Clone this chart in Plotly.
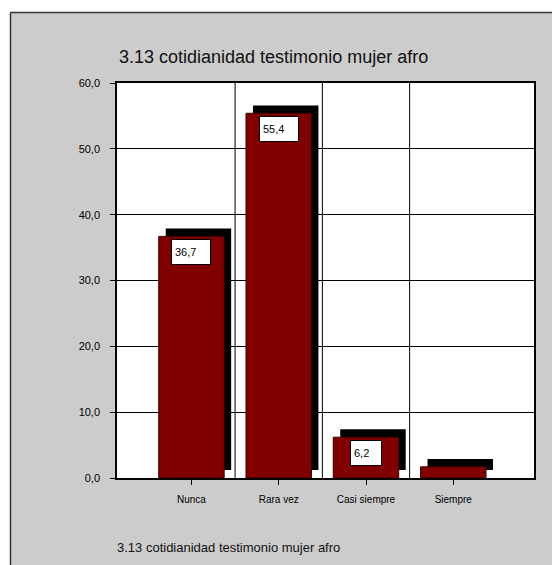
import plotly.graph_objects as go

# ---- data ----
categories = ["Nunca", "Rara vez", "Casi siempre", "Siempre"]
percentages = [36.7, 55.4, 6.2, 1.7]
show_value = [True, True, True, False]
y_ticks = [0, 10, 20, 30, 40, 50, 60]
title_text = "3.13 cotidianidad testimonio mujer afro"
caption_text = "3.13 cotidianidad testimonio mujer afro"

# ---- page geometry ----
W, H = 552, 565
M = dict(l=117, r=18, t=83, b=87)
PW = W - M["l"] - M["r"]
PH = H - M["t"] - M["b"]


def px_x(px):
    return (px - M["l"]) / PW


def px_y(py):
    return (H - M["b"] - py) / PH


FONT = "Liberation Sans, Arial, sans-serif"
BAR_COLOR = "#800000"
BAR_W = 0.75
SHADOW_DX = 0.08   # shadow shift, category units
SHADOW_DY = 1.2    # shadow shift, value units

fig = go.Figure()

# drop shadow: the same bars moved right and up
fig.add_trace(go.Bar(
    x=categories, y=percentages, base=SHADOW_DY,
    width=BAR_W, offset=-BAR_W / 2 + SHADOW_DX,
    marker=dict(color="black", line=dict(width=0)),
    hoverinfo="skip", showlegend=False,
))
# main bars
fig.add_trace(go.Bar(
    x=categories, y=percentages,
    width=BAR_W, offset=-BAR_W / 2,
    marker=dict(color=BAR_COLOR, line=dict(color="#3a0000", width=1)),
    showlegend=False,
))

# value boxes at the top of each bar
annotations = []
for cat, val, show in zip(categories, percentages, show_value):
    if not show:
        continue
    label = f"{val:.1f}".replace(".", ",")
    annotations.append(dict(
        x=cat, y=val, xref="x", yref="y",
        text=label, showarrow=False,
        xanchor="center", yanchor="top", yshift=-2.5,
        width=7.5 * len(label) + 1.5, height=18,
        align="left", valign="middle",
        bgcolor="white", bordercolor="black", borderwidth=1, borderpad=3,
        font=dict(family=FONT, size=11, color="black"),
    ))

# chart title and caption
annotations.append(dict(
    x=px_x(117), y=px_y(56.5), xref="paper", yref="paper",
    text=title_text, showarrow=False, xanchor="left", yanchor="middle",
    font=dict(family=FONT, size=18, color="#111111"),
))
annotations.append(dict(
    x=px_x(115), y=px_y(547), xref="paper", yref="paper",
    text=caption_text, showarrow=False, xanchor="left", yanchor="middle",
    font=dict(family=FONT, size=13, color="#111111"),
))

shapes = []
# vertical grid lines between categories
for xb in (0.5, 1.5, 2.5):
    shapes.append(dict(
        type="line", xref="x", yref="y", x0=xb, x1=xb, y0=y_ticks[0], y1=y_ticks[-1],
        line=dict(color="black", width=1), layer="below",
    ))
# white page edge outside the chart frame
shapes.append(dict(type="rect", xref="paper", yref="paper",
                   x0=px_x(-5), x1=px_x(W + 5), y0=px_y(12), y1=px_y(-5),
                   fillcolor="white", line=dict(width=0), layer="below"))
shapes.append(dict(type="rect", xref="paper", yref="paper",
                   x0=px_x(-5), x1=px_x(10), y0=px_y(H + 5), y1=px_y(12),
                   fillcolor="white", line=dict(width=0), layer="below"))
# frame lines
shapes.append(dict(type="line", xref="paper", yref="paper",
                   x0=px_x(10.5), x1=px_x(W + 5), y0=px_y(12.5), y1=px_y(12.5),
                   line=dict(color="#333333", width=1.5)))
shapes.append(dict(type="line", xref="paper", yref="paper",
                   x0=px_x(10.5), x1=px_x(10.5), y0=px_y(12.5), y1=px_y(H + 5),
                   line=dict(color="#333333", width=1.5)))

fig.update_layout(
    width=W, height=H, margin=M,
    paper_bgcolor="#cccccc", plot_bgcolor="white",
    barmode="overlay", separators=",.",
    font=dict(family=FONT, color="black"),
    annotations=annotations, shapes=shapes,
    xaxis=dict(
        type="category", range=[-0.853, 3.925],
        showgrid=False, zeroline=False,
        showline=True, linecolor="black", linewidth=1.5, mirror=True,
        ticks="outside", ticklen=5, tickcolor="black", tickwidth=1,
        ticklabelstandoff=6,
        tickfont=dict(family=FONT, size=10, color="black"),
        fixedrange=True,
    ),
    yaxis=dict(
        range=[y_ticks[0], y_ticks[-1]], tickvals=y_ticks, tickformat=".1f",
        showgrid=True, gridcolor="black", gridwidth=1, zeroline=False,
        showline=True, linecolor="black", linewidth=1.5, mirror=True,
        ticks="outside", ticklen=5, tickcolor="black", tickwidth=1,
        ticklabelstandoff=8,
        tickfont=dict(family=FONT, size=11, color="black"),
        fixedrange=True,
    ),
)

fig.write_html("out.html", config=dict(displayModeBar=False))
